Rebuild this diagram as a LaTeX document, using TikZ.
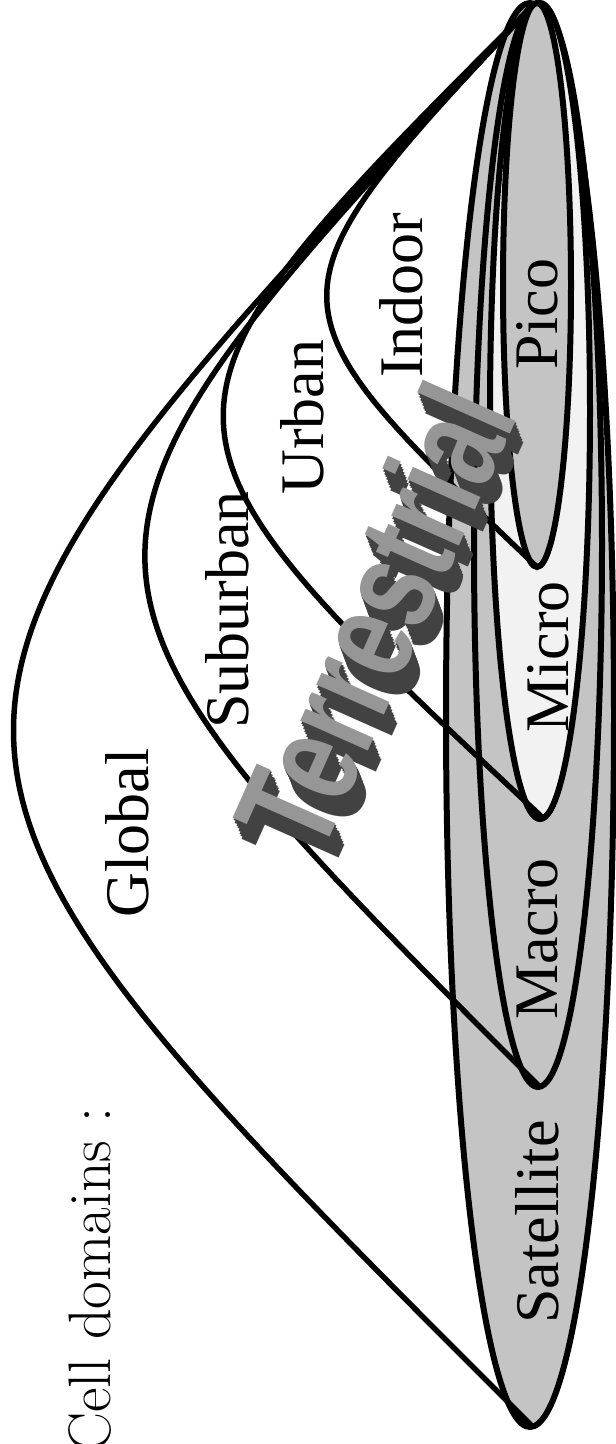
\documentclass[tikz,border=0pt]{standalone}
\usepackage{fontspec}
\usepackage{tikz}
\usetikzlibrary{positioning}
\newfontfamily\domfont{Liberation Serif}
\newfontfamily\artfont{Liberation Sans}
\definecolor{zoneGray}{RGB}{196,196,196}
\definecolor{zoneLight}{RGB}{242,242,242}
\definecolor{artFace}{RGB}{150,150,150}
\definecolor{artDark}{RGB}{66,66,66}
\newcommand{\terrword}{\scalebox{0.72}[1]{Terrestrial}}

\begin{document}
\begin{tikzpicture}[x=1pt, y=-1pt,
  cellzone/.style={draw=black, line width=6pt, fill=zoneGray},
  domarc/.style={draw=black, line width=5.5pt},
  domlabel/.style={rotate=90, anchor=base, font=\domfont\fontsize{62}{62}\selectfont},
  terrart/.style={rotate=66, inner sep=0pt, font=\artfont\bfseries\fontsize{140}{140}\selectfont}]
  \useasboundingbox (0,0) rectangle (616,1444);
  \clip (0,0) rectangle (616,1444);
  \fill[white] (0,0) rectangle (616,1444);

  \draw[cellzone] (530,715) ellipse [x radius=84, y radius=712];
  \draw[cellzone] (538,545) ellipse [x radius=64, y radius=542];
  \draw[cellzone, fill=zoneLight] (540,411) ellipse [x radius=50, y radius=408];
  \draw[cellzone] (537,285) ellipse [x radius=34, y radius=282];

  \coordinate (apex) at (535,3);
  \coordinate (satTip) at (533,1427);
  \coordinate (macTip) at (540,1087);
  \coordinate (micTip) at (543,818);
  \coordinate (picTip) at (537,567);

  \draw[domarc] (apex) .. controls (-160,735) .. (satTip);
  \draw[domarc] (apex) .. controls (14,561) .. (macTip);
  \draw[domarc] (apex) .. controls (118,420) .. (micTip);
  \draw[domarc] (apex) .. controls (257,300) .. (picTip);

  \foreach \k in {8,7,...,1}
    \node[terrart, text=artDark, xshift={-2*\k pt}, yshift={-2*\k pt}] (terrx\k) at (374,616) {\terrword};
  \node[terrart, text=artFace] (terr) at (374,616) {\terrword};

  \node[domlabel] (global) at (148,833) {Global};
  \node[domlabel] (suburban) at (248,610) {Suburban};
  \node[domlabel] (urban) at (323,417) {Urban};
  \node[domlabel] (indoor) at (422,295) {Indoor};
  \node[domlabel] (pico) at (557,314) {Pico};
  \node[domlabel] (micro) at (568,657) {Micro};
  \node[domlabel] (macro) at (557,939) {Macro};
  \node[domlabel] (satellite) at (558,1222) {Satellite};
  \node[domlabel, font=\fontsize{60}{60}\selectfont] (title) at (110,1280) {Cell domains :};
\end{tikzpicture}
\end{document}
